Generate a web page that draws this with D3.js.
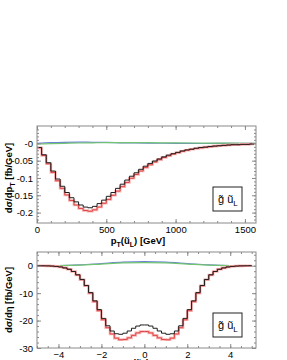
<!DOCTYPE html>
<html>
<head>
<meta charset="utf-8">
<script src="https://cdn.jsdelivr.net/npm/d3@7"></script>
<style>
  body { margin: 0; background: #fff; }
  text { font-family: "Liberation Sans", Arial, sans-serif; }
</style>
</head>
<body>
<div id="chart"></div>
<script>
// Data
// ================================
var ptBinWidth = 33.33;
var ptBlack = [-0.012, -0.033, -0.056, -0.080, -0.103, -0.124, -0.142, -0.157, -0.169, -0.178,
  -0.184, -0.186, -0.182, -0.174, -0.164, -0.153, -0.142, -0.130, -0.118, -0.106,
  -0.095, -0.085, -0.075, -0.066, -0.058, -0.051, -0.045, -0.039, -0.034, -0.030,
  -0.026, -0.022, -0.019, -0.017, -0.014, -0.012, -0.011, -0.009, -0.008, -0.007,
  -0.006, -0.005, -0.004, -0.004, -0.003, -0.003, -0.002];
var ptRed = [-0.013, -0.035, -0.059, -0.084, -0.108, -0.130, -0.149, -0.165, -0.178, -0.188,
  -0.194, -0.196, -0.192, -0.184, -0.173, -0.162, -0.150, -0.138, -0.125, -0.113,
  -0.101, -0.090, -0.080, -0.070, -0.062, -0.054, -0.047, -0.041, -0.036, -0.031,
  -0.027, -0.023, -0.020, -0.017, -0.015, -0.013, -0.011, -0.010, -0.008, -0.007,
  -0.006, -0.005, -0.004, -0.004, -0.003, -0.003, -0.002];
var ptSmoothX = [0, 100, 200, 300, 400, 500, 600, 700, 800, 1000, 1200, 1400, 1575];
var ptBlue = [0, 0.002, 0.003, 0.0035, 0.003, 0.0025, 0.0015, 0.001, 0.0005, 0, -0.0005, -0.0003, 0];
var ptGreen = [-0.002, -0.001, 0, 0.001, 0.0015, 0.002, 0.002, 0.002, 0.0018, 0.0012, 0.0006, 0.0003, 0];

var etaStart = -5;
var etaBinWidth = 0.2;
var etaBlack = [-0.01, -0.03, -0.06, -0.13, -0.25, -0.45, -0.8, -1.3, -2.1, -3.3,
  -5.0, -7.2, -9.8, -12.8, -16.0, -19.2, -21.9, -23.8, -24.8, -25.0,
  -24.6, -23.8, -22.8, -22.0, -21.6, -21.6, -22.0, -22.8, -23.8, -24.6,
  -25.0, -24.8, -23.8, -21.9, -19.2, -16.0, -12.8, -9.8, -7.2, -5.0,
  -3.3, -2.1, -1.3, -0.8, -0.45, -0.25, -0.13, -0.06, -0.03, -0.01];
var etaRed = [-0.01, -0.03, -0.06, -0.13, -0.25, -0.45, -0.8, -1.3, -2.1, -3.4,
  -5.1, -7.3, -10.0, -13.1, -16.4, -19.7, -22.6, -24.9, -26.4, -27.0,
  -26.9, -26.3, -25.4, -24.5, -24.0, -24.0, -24.5, -25.4, -26.3, -26.9,
  -27.0, -26.4, -24.9, -22.6, -19.7, -16.4, -13.1, -10.0, -7.3, -5.1,
  -3.4, -2.1, -1.3, -0.8, -0.45, -0.25, -0.13, -0.06, -0.03, -0.01];
var etaSmoothX = [-5, -4, -3, -2, -1, 0, 1, 2, 3, 4, 5];
var etaBlue = [0, 0.05, 0.3, 0.8, 1.3, 1.5, 1.3, 0.8, 0.3, 0.05, 0];
var etaGreen = [0, 0.03, 0.2, 0.6, 1.0, 1.1, 1.0, 0.6, 0.2, 0.03, 0];

var ptTicks = [0, 500, 1000, 1500];
var ptYTicks = [0, -0.05, -0.1, -0.15, -0.2];
var ptYLabels = ["-0", "-0.05", "-0.1", "-0.15", "-0.2"];
var etaTicks = [-4, -2, 0, 2, 4];
var etaYTicks = [0, -10, -20, -30];
var etaYLabels = ["0", "-10", "-20", "-30"];

// Set up the svg
// ================================
var svgWidth = 287;
var svgHeight = 360;

var svg = d3.select("#chart")
  .append("svg")
  .attr("width", svgWidth)
  .attr("height", svgHeight);

var frameColor = "#8a8a8a";

// turn bin values into a step outline
function steps(values, start, w) {
  var pts = [];
  values.forEach(function(v, i) {
    pts.push([start + i * w, v]);
    pts.push([start + (i + 1) * w, v]);
  });
  return pts;
}

function drawPanel(opt) {
  var g = svg.append("g");
  var x = d3.scaleLinear().domain(opt.xDomain).range([opt.left, opt.right]);
  var y = d3.scaleLinear().domain(opt.yDomain).range([opt.bottom, opt.top]);

  var clipId = "clip" + opt.id;
  svg.append("clipPath").attr("id", clipId)
    .append("rect")
    .attr("x", opt.left).attr("y", opt.top)
    .attr("width", opt.right - opt.left).attr("height", opt.bottom - opt.top);

  var plot = g.append("g").attr("clip-path", "url(#" + clipId + ")");
  var line = d3.line().x(d => x(d[0])).y(d => y(d[1]));
  var smooth = d3.line().x(d => x(d[0])).y(d => y(d[1])).curve(d3.curveMonotoneX);

  plot.append("path")
    .attr("d", smooth(d3.zip(opt.smoothX, opt.blue)))
    .attr("fill", "none").attr("stroke", "#6f7fd8").attr("stroke-width", 1.2);
  plot.append("path")
    .attr("d", smooth(d3.zip(opt.smoothX, opt.green)))
    .attr("fill", "none").attr("stroke", "#70c470").attr("stroke-width", 1.2);

  var redPts = steps(opt.red, opt.start, opt.binW);
  plot.append("path").attr("d", line(redPts))
    .attr("fill", "none").attr("stroke", "#f6b4b4").attr("stroke-width", 2.6);
  plot.append("path").attr("d", line(redPts))
    .attr("fill", "none").attr("stroke", "#e04646").attr("stroke-width", 1);
  plot.append("path").attr("d", line(steps(opt.black, opt.start, opt.binW)))
    .attr("fill", "none").attr("stroke", "#1e1e1e").attr("stroke-width", 1);

  // axes, ticks inward on all four sides
  var xMajor = opt.xTicks, yMajor = opt.yTicks;
  g.append("g").attr("transform", `translate(0, ${opt.bottom})`)
    .call(d3.axisBottom(x).tickValues(opt.xMinor).tickSize(-2).tickFormat(""));
  g.append("g").attr("transform", `translate(0, ${opt.bottom})`)
    .call(d3.axisBottom(x).tickValues(xMajor).tickSize(-4).tickPadding(3).tickFormat(d3.format("")));
  g.append("g").attr("transform", `translate(0, ${opt.top})`)
    .call(d3.axisTop(x).tickValues(opt.xMinor).tickSize(-2).tickFormat(""));
  g.append("g").attr("transform", `translate(0, ${opt.top})`)
    .call(d3.axisTop(x).tickValues(xMajor).tickSize(-4).tickFormat(""));
  g.append("g").attr("transform", `translate(${opt.left}, 0)`)
    .call(d3.axisLeft(y).tickValues(opt.yMinor).tickSize(-2).tickFormat(""));
  g.append("g").attr("transform", `translate(${opt.left}, 0)`)
    .call(d3.axisLeft(y).tickValues(yMajor).tickSize(-4).tickPadding(4)
      .tickFormat((d, i) => opt.yLabels[i]));
  g.append("g").attr("transform", `translate(${opt.right}, 0)`)
    .call(d3.axisRight(y).tickValues(opt.yMinor).tickSize(-2).tickFormat(""));
  g.append("g").attr("transform", `translate(${opt.right}, 0)`)
    .call(d3.axisRight(y).tickValues(yMajor).tickSize(-4).tickFormat(""));

  g.selectAll(".domain").remove();
  g.selectAll(".tick line").attr("stroke", frameColor);
  g.selectAll(".tick text").attr("font-size", "9.5px").attr("fill", "#000");

  g.append("rect")
    .attr("x", opt.left).attr("y", opt.top)
    .attr("width", opt.right - opt.left).attr("height", opt.bottom - opt.top)
    .attr("fill", "none").attr("stroke", frameColor);

  // legend box
  g.append("rect")
    .attr("x", opt.legX).attr("y", opt.legY).attr("width", 29).attr("height", 24)
    .attr("fill", "#fff").attr("stroke", "#222").attr("stroke-width", 1);
  var leg = g.append("text")
    .attr("x", opt.legX + 5).attr("y", opt.legY + 16)
    .attr("font-size", "11px").attr("fill", "#000");
  leg.append("tspan").text("g\u0303 \u0169");
  leg.append("tspan").attr("font-size", "8px").attr("dy", 3).text("L");

  // axis titles
  var yt = g.append("text")
    .attr("transform", `translate(12, ${opt.yTitleY}) rotate(-90)`)
    .attr("text-anchor", "middle")
    .attr("font-size", "9.5px").attr("font-weight", "bold");
  opt.yTitle(yt);

  var xt = g.append("text")
    .attr("x", 138).attr("y", opt.xTitleY)
    .attr("text-anchor", "middle")
    .attr("font-size", "9.5px").attr("font-weight", "bold");
  opt.xTitle(xt);
}

drawPanel({
  id: 1, left: 37, right: 256, top: 126, bottom: 223,
  xDomain: [0, 1580], yDomain: [-0.23, 0.05],
  start: 0, binW: ptBinWidth, black: ptBlack, red: ptRed,
  smoothX: ptSmoothX, blue: ptBlue, green: ptGreen,
  xTicks: ptTicks, xMinor: d3.range(0, 1600, 100),
  yTicks: ptYTicks, yLabels: ptYLabels, yMinor: d3.range(-0.22, 0.05, 0.01),
  legX: 213, legY: 187, yTitleY: 178, xTitleY: 243.5,
  yTitle: function(t) {
    t.append("tspan").text("d\u03c3/dp");
    t.append("tspan").attr("font-size", "7px").attr("dy", 3).text("T");
    t.append("tspan").attr("dy", -3).text(" [fb/GeV]");
  },
  xTitle: function(t) {
    t.append("tspan").text("p");
    t.append("tspan").attr("font-size", "7px").attr("dy", 3).text("T");
    t.append("tspan").attr("dy", -3).text("(\u0169");
    t.append("tspan").attr("font-size", "7px").attr("dy", 3).text("L");
    t.append("tspan").attr("dy", -3).text(") [GeV]");
  }
});

drawPanel({
  id: 2, left: 37, right: 256, top: 252, bottom: 348,
  xDomain: [-5, 5.2], yDomain: [-30, 5],
  start: etaStart, binW: etaBinWidth, black: etaBlack, red: etaRed,
  smoothX: etaSmoothX, blue: etaBlue, green: etaGreen,
  xTicks: etaTicks, xMinor: d3.range(-5, 5.25, 0.5),
  yTicks: etaYTicks, yLabels: etaYLabels, yMinor: d3.range(-30, 5, 2),
  legX: 213, legY: 313, yTitleY: 300, xTitleY: 366,
  yTitle: function(t) {
    t.text("d\u03c3/d\u03b7 [fb/GeV]");
  },
  xTitle: function(t) {
    t.append("tspan").text("\u03b7(\u0169");
    t.append("tspan").attr("font-size", "7px").attr("dy", 3).text("L");
    t.append("tspan").attr("dy", -3).text(")");
  }
});
</script>
</body>
</html>
